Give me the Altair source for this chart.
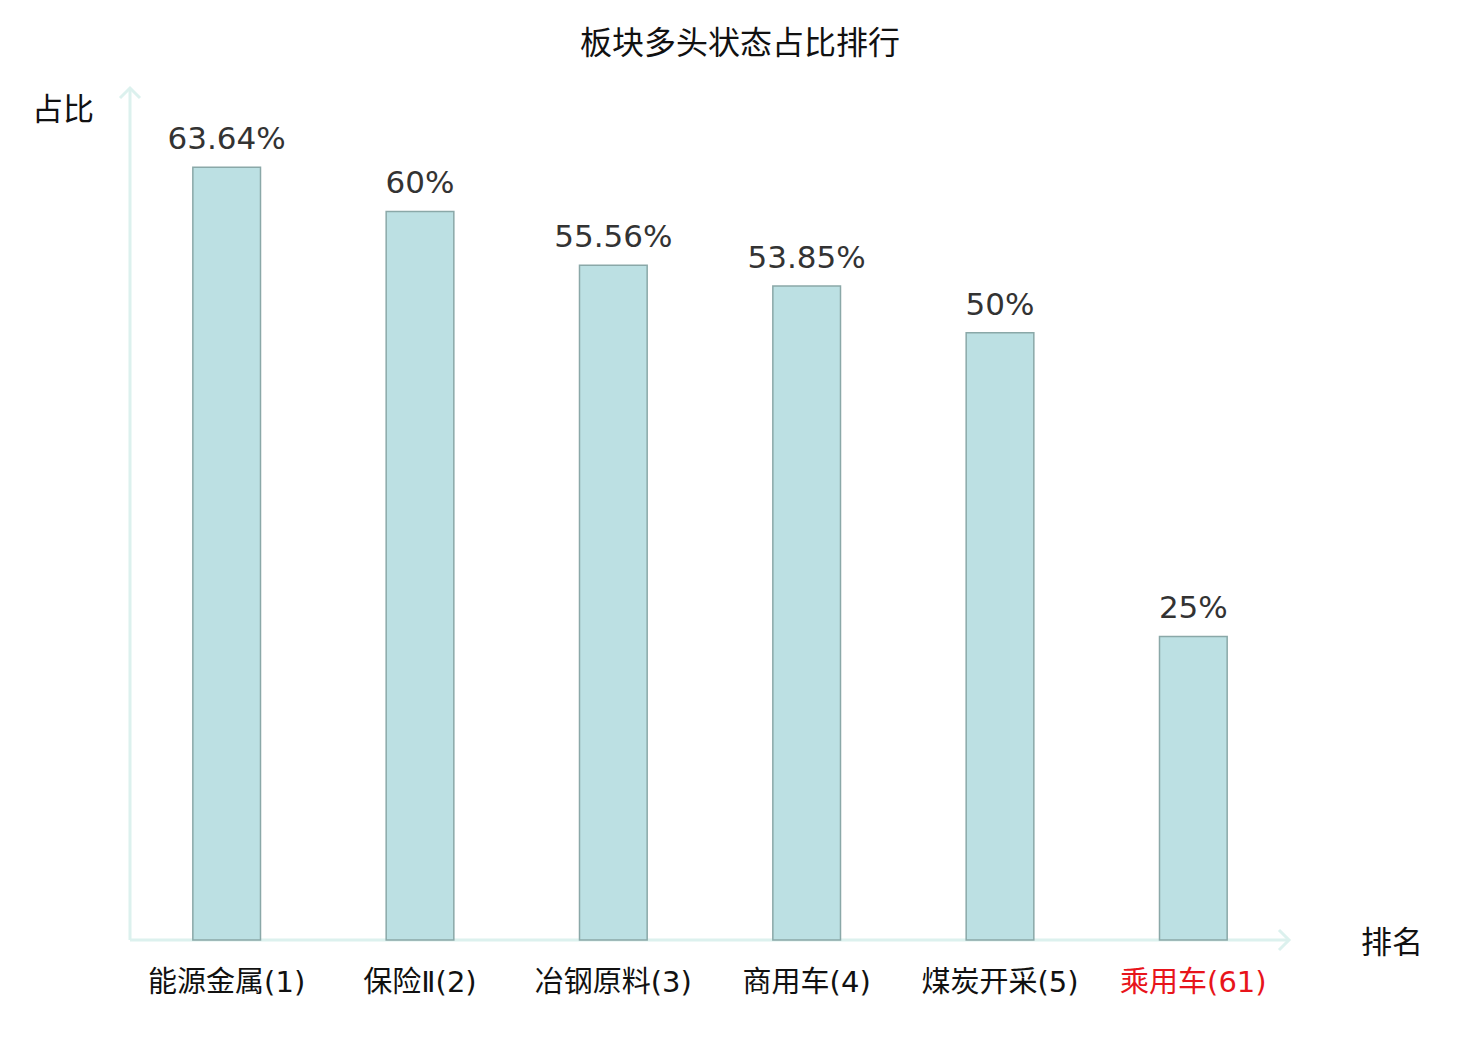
import altair as alt
import pandas as pd

categories = ["能源金属(1)", "保险Ⅱ(2)", "冶钢原料(3)", "商用车(4)", "煤炭开采(5)", "乘用车(61)"]
values = [63.64, 60, 55.56, 53.85, 50, 25]
value_labels = ["63.64%", "60%", "55.56%", "53.85%", "50%", "25%"]

df = pd.DataFrame({"cat": categories, "val": values, "lab": value_labels})

W, H = 1160, 850
CJK = "Noto Sans CJK SC"
LBL = "DejaVu Sans, Noto Sans CJK SC"
AX = "#dcf1ee"

x_scale = alt.Scale(domain=categories, paddingInner=0.65, paddingOuter=0.325)
y_scale = alt.Scale(domain=[0, 70], nice=False)

base = alt.Chart(df)

bars = base.mark_bar(fill="#bce0e3", stroke="#8aa8a8", strokeWidth=1.5).encode(
    x=alt.X("cat:N", scale=x_scale, sort=categories,
            axis=alt.Axis(title=None, domain=False, ticks=False, grid=False, labelAngle=0,
                          labelFont=LBL, labelFontSize=29, labelFontWeight="normal", labelPadding=28,
                          labelColor=alt.expr("datum.value == '乘用车(61)' ? '#e8141b' : '#111111'"))),
    y=alt.Y("val:Q", scale=y_scale, axis=None),
)

texts = base.mark_text(font="DejaVu Sans", fontSize=31, color="#333333", dy=-11,
                       baseline="bottom").encode(
    x=alt.X("cat:N", scale=x_scale, sort=categories),
    y=alt.Y("val:Q", scale=y_scale),
    text="lab:N",
)

axis_df = pd.DataFrame({"k": [0]})
ab = alt.Chart(axis_df)
xline = ab.mark_rule(color=AX, strokeWidth=3).encode(
    x=alt.value(0), x2=alt.value(W - 1), y=alt.value(H))
yline = ab.mark_rule(color=AX, strokeWidth=3).encode(
    x=alt.value(0), y=alt.value(-1), y2=alt.value(H))
chevron = "M-1,1 L0,0 L1,1"
yarrow = ab.mark_point(shape=chevron, filled=False, stroke=AX, strokeWidth=3, size=400, opacity=1).encode(
    x=alt.value(0), y=alt.value(-2))
xarrow = ab.mark_point(shape=chevron, filled=False, stroke=AX, strokeWidth=3, size=400, angle=90, opacity=1).encode(
    x=alt.value(W - 1), y=alt.value(H))

ylab = ab.mark_text(text="占比", font=CJK, fontSize=31, color="#111111", align="center",
                    baseline="middle").encode(x=alt.value(-67), y=alt.value(21))
xlab = ab.mark_text(text="排名", font=CJK, fontSize=31, color="#111111", align="center",
                    baseline="middle").encode(x=alt.value(1262), y=alt.value(854))

chart = alt.layer(yline, xline, bars, texts, yarrow, xarrow, ylab, xlab).properties(
    width=W, height=H,
    title=alt.TitleParams("板块多头状态占比排行", font=CJK, fontSize=32, fontWeight="normal",
                          color="#111111", anchor="middle", offset=21, dx=30),
    autosize=alt.AutoSizeParams(type="none"),
    padding={"left": 122, "top": 82, "right": 170, "bottom": 80},
).configure(background="white").configure_view(strokeWidth=0, stroke="transparent")

chart.save("out.html", embed_options={"renderer": "svg", "actions": False})
